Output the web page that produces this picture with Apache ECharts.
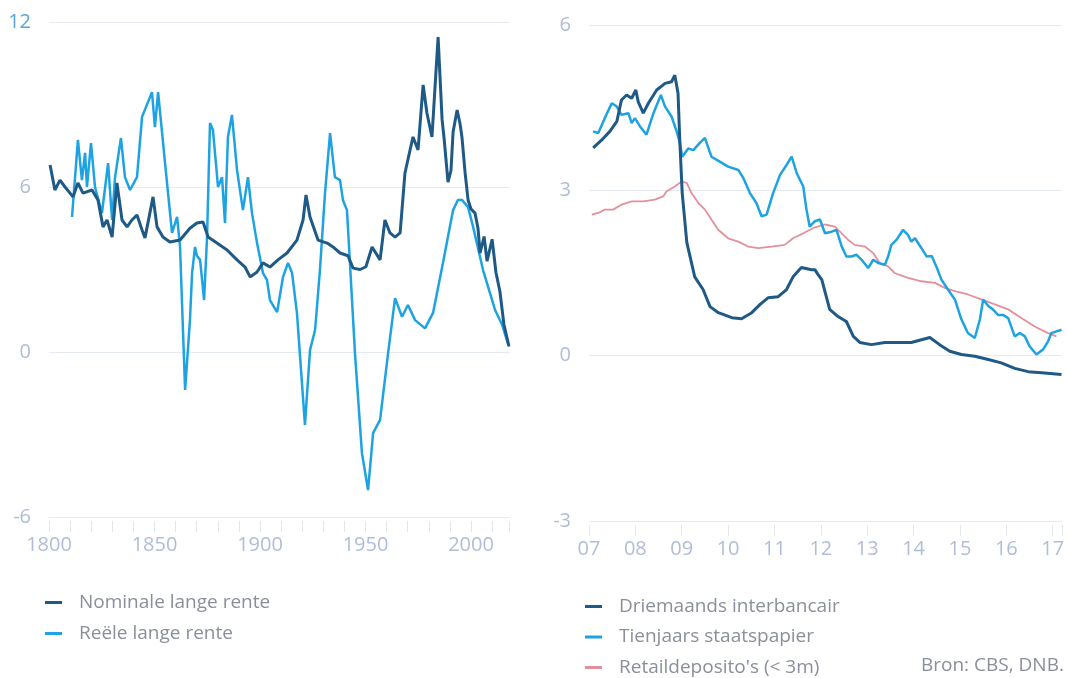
<!DOCTYPE html>
<html>
<head>
<meta charset="utf-8">
<script src="https://cdn.jsdelivr.net/npm/echarts@6/dist/echarts.min.js"></script>
<style>
html,body{margin:0;padding:0;background:#fff;}
#c{width:1069px;height:678px;}
</style>
</head>
<body>
<div id="c"></div>
<script>
// ---------- Left panel: long-term interest rates (1800-2017) ----------
const nominalYears = [1800.5,1802.8,1805.2,1807.6,1811.4,1813.7,1816.1,1820.4,1823.2,1825.6,1827.5,1829.9,1832.2,1834.6,1837.0,1839.3,1841.7,1844.1,1845.5,1849.3,1851.2,1854.0,1857.3,1862.1,1866.8,1870.1,1873.0,1875.4,1879.6,1884.4,1889.1,1892.9,1895.3,1898.6,1901.4,1904.7,1908.5,1912.8,1917.5,1920.4,1921.8,1923.7,1927.5,1931.8,1934.6,1937.9,1941.7,1944.1,1947.4,1950.2,1953.1,1956.9,1959.2,1961.6,1964.0,1966.4,1968.7,1972.5,1974.9,1977.3,1979.1,1981.5,1984.4,1986.3,1987.2,1989.1,1990.5,1991.5,1993.4,1994.8,1995.7,1997.2,1998.6,2000.0,2001.9,2003.3,2004.3,2006.2,2007.6,2010.0,2011.8,2013.7,2015.6,2018.0];
const nominalValues = [6.80,5.89,6.25,6.00,5.64,6.15,5.78,5.89,5.53,4.55,4.80,4.18,6.15,4.80,4.55,4.80,4.98,4.44,4.15,5.64,4.55,4.18,4.00,4.07,4.50,4.69,4.73,4.18,3.96,3.71,3.35,3.09,2.73,2.91,3.24,3.09,3.35,3.60,4.07,4.80,5.71,4.91,4.07,3.96,3.82,3.60,3.50,3.05,3.00,3.10,3.82,3.35,4.80,4.33,4.18,4.33,6.51,7.82,7.35,9.71,8.69,7.82,11.45,8.44,7.80,6.18,6.60,8.00,8.80,8.30,7.82,6.51,5.53,5.20,5.05,4.50,3.60,4.20,3.30,4.10,2.90,2.20,1.00,0.20];

const realYears = [1810.9,1813.7,1815.6,1817.1,1818.0,1819.9,1821.8,1825.1,1828.0,1829.9,1831.3,1834.1,1836.0,1838.4,1841.7,1844.1,1848.8,1850.2,1851.7,1855.0,1858.3,1860.7,1862.1,1864.5,1866.8,1867.8,1869.2,1870.1,1871.6,1873.5,1874.9,1876.3,1877.7,1880.1,1882.0,1883.4,1884.8,1886.7,1889.1,1891.9,1894.3,1896.2,1898.6,1901.4,1903.3,1904.7,1908.1,1910.9,1913.3,1915.2,1917.5,1921.3,1923.7,1926.1,1928.4,1930.8,1933.2,1935.5,1937.9,1939.3,1941.2,1942.2,1945.0,1948.3,1951.2,1953.6,1956.9,1960.7,1964.0,1967.3,1970.1,1973.5,1978.2,1982.0,1986.7,1991.5,1993.8,1995.7,1998.6,2001.0,2005.7,2011.4,2014.7,2017.5];
const realValues = [4.91,7.71,6.25,7.24,6.00,7.60,6.00,5.05,6.87,4.80,6.36,7.78,6.36,5.89,6.36,8.55,9.45,8.18,9.45,6.87,4.33,4.91,3.82,-1.38,1.16,2.87,3.82,3.50,3.35,1.89,4.18,8.33,8.07,6.00,6.36,4.69,7.82,8.62,6.62,5.16,6.36,5.05,3.96,2.87,2.62,1.89,1.45,2.73,3.24,2.87,1.42,-2.65,0.07,0.80,2.98,5.78,7.96,6.36,6.25,5.53,5.16,3.82,-0.04,-3.67,-5.02,-2.95,-2.47,-0.04,1.96,1.28,1.71,1.16,0.86,1.42,3.24,5.16,5.53,5.53,5.27,4.55,2.98,1.53,1.00,0.30];

// ---------- Right panel: rates 2007-2017 ----------
const interbankYears = [2007.09,2007.27,2007.45,2007.60,2007.70,2007.81,2007.92,2008.01,2008.06,2008.17,2008.28,2008.46,2008.64,2008.78,2008.85,2008.92,2008.96,2009.01,2009.11,2009.28,2009.46,2009.61,2009.79,2010.08,2010.29,2010.51,2010.69,2010.86,2011.08,2011.26,2011.40,2011.58,2011.80,2011.87,2011.94,2012.02,2012.19,2012.37,2012.55,2012.70,2012.84,2013.09,2013.38,2013.67,2013.95,2014.17,2014.35,2014.56,2014.78,2015.03,2015.32,2015.61,2015.89,2016.18,2016.47,2016.76,2017.19];
const interbankValues = [3.77,3.91,4.07,4.25,4.64,4.73,4.67,4.82,4.61,4.40,4.58,4.82,4.94,4.97,5.09,4.76,3.86,2.95,2.05,1.43,1.20,0.89,0.78,0.69,0.67,0.78,0.93,1.05,1.07,1.20,1.43,1.60,1.56,1.56,1.47,1.38,0.84,0.71,0.62,0.35,0.24,0.20,0.24,0.24,0.24,0.29,0.33,0.20,0.08,0.02,-0.01,-0.07,-0.13,-0.23,-0.29,-0.31,-0.34];

const bondYears = [2007.09,2007.20,2007.34,2007.49,2007.60,2007.70,2007.85,2007.92,2007.99,2008.10,2008.24,2008.39,2008.55,2008.64,2008.78,2008.89,2008.96,2009.01,2009.14,2009.25,2009.39,2009.50,2009.64,2009.82,2010.00,2010.22,2010.33,2010.47,2010.61,2010.72,2010.83,2010.97,2011.12,2011.26,2011.37,2011.48,2011.62,2011.69,2011.76,2011.87,2011.98,2012.09,2012.23,2012.34,2012.45,2012.55,2012.66,2012.77,2012.88,2013.02,2013.13,2013.24,2013.38,2013.45,2013.52,2013.63,2013.77,2013.88,2013.95,2014.03,2014.17,2014.28,2014.39,2014.49,2014.60,2014.74,2014.89,2015.03,2015.17,2015.32,2015.43,2015.50,2015.61,2015.71,2015.82,2015.93,2016.04,2016.18,2016.29,2016.40,2016.50,2016.65,2016.79,2016.90,2016.97,2017.08,2017.19];
const bondValues = [4.07,4.04,4.31,4.58,4.52,4.37,4.40,4.22,4.31,4.16,4.01,4.40,4.73,4.52,4.34,4.07,3.86,3.61,3.76,3.73,3.86,3.95,3.61,3.52,3.43,3.37,3.22,2.95,2.77,2.53,2.56,2.95,3.28,3.46,3.61,3.31,3.07,2.65,2.34,2.44,2.47,2.22,2.25,2.28,1.98,1.80,1.80,1.83,1.74,1.59,1.74,1.68,1.65,1.80,2.01,2.10,2.28,2.19,2.07,2.13,1.95,1.80,1.81,1.62,1.38,1.20,1.02,0.66,0.41,0.32,0.66,1.02,0.90,0.84,0.74,0.74,0.68,0.35,0.41,0.35,0.17,0.02,0.11,0.26,0.41,0.44,0.47];

const retailYears = [2007.06,2007.20,2007.34,2007.52,2007.70,2007.92,2008.17,2008.42,2008.60,2008.67,2008.85,2009.00,2009.11,2009.21,2009.36,2009.50,2009.64,2009.79,2010.00,2010.22,2010.43,2010.65,2010.94,2011.22,2011.40,2011.62,2011.87,2012.09,2012.30,2012.45,2012.59,2012.73,2012.95,2013.13,2013.27,2013.45,2013.59,2013.88,2014.17,2014.46,2014.67,2014.89,2015.17,2015.46,2015.75,2016.04,2016.33,2016.61,2016.90,2017.08];
const retailValues = [2.56,2.59,2.65,2.65,2.74,2.80,2.80,2.83,2.89,2.98,3.07,3.16,3.13,2.95,2.77,2.65,2.47,2.28,2.13,2.07,1.98,1.95,1.98,2.01,2.13,2.22,2.33,2.38,2.34,2.22,2.10,2.01,1.98,1.86,1.68,1.62,1.50,1.41,1.35,1.32,1.23,1.17,1.11,1.02,0.93,0.84,0.68,0.53,0.41,0.35];

const seriesNames = ['Nominale lange rente','Reële lange rente','Driemaands interbancair','Tienjaars staatspapier',"Retaildeposito's (< 3m)"];
const leftYTicks = [-6, 0, 6, 12];
const rightYTicks = [-3, 0, 3, 6];
const sourceText = 'Bron: CBS, DNB.';

const zip = (xs, ys) => xs.map((x, i) => [x, ys[i]]);

const C_DARK = '#1f5a87';
const C_LIGHT = '#1ea3e2';
const C_PINK = '#e4909c';
const C_LABEL = '#b0bdd8';
const C_GRID = '#e6ebf1';
const C_TEXT = '#8a8f9b';
const FONT = 'Open Sans';
const AXIS_FS = 20;
const LEG_FS = 19;

const chart = echarts.init(document.getElementById('c'), null, {renderer: 'canvas'});

function yAxisFor(gridIndex, ticks) {
  return {
    type: 'value', gridIndex: gridIndex,
    min: ticks[0], max: ticks[ticks.length - 1], interval: ticks[1] - ticks[0],
    axisLine: {show: false}, axisTick: {show: false},
    axisLabel: {
      margin: 18, fontFamily: FONT, fontSize: AXIS_FS,
      color: function (v) { return Number(v) === ticks[ticks.length - 1] && gridIndex === 0 ? '#5aa6d8' : C_LABEL; }
    },
    splitLine: {show: true, lineStyle: {color: C_GRID, width: 1}}
  };
}

function tickAxis(gridIndex, min, max, step) {
  return {
    type: 'value', gridIndex: gridIndex, min: min, max: max, interval: step,
    position: 'bottom', offset: 4,
    axisLine: {show: false}, splitLine: {show: false}, axisLabel: {show: false},
    axisTick: {show: true, length: 11, lineStyle: {color: '#e3e8f0'}}
  };
}

const option = {
  backgroundColor: '#ffffff',
  animation: false,
  grid: [
    {left: 49, top: 22, width: 460, height: 495},
    {left: 589, top: 25, width: 473, height: 496}
  ],
  title: {
    text: sourceText, left: 921, top: 656, padding: 0,
    textStyle: {fontFamily: FONT, fontSize: LEG_FS, fontWeight: 'normal', color: C_TEXT}
  },
  legend: [
    {
      data: [seriesNames[0], seriesNames[1]],
      orient: 'vertical', left: 45, top: 593, padding: 0, icon: 'rect',
      itemWidth: 17, itemHeight: 3, itemGap: 12,
      textStyle: {fontFamily: FONT, fontSize: LEG_FS, lineHeight: 19, color: C_TEXT, padding: [0, 0, 0, 12]}
    },
    {
      data: [seriesNames[2], seriesNames[3], seriesNames[4]],
      orient: 'vertical', left: 585, top: 597, padding: 0, icon: 'rect',
      itemWidth: 17, itemHeight: 3, itemGap: 11.5, height: 81,
      textStyle: {fontFamily: FONT, fontSize: LEG_FS, lineHeight: 19, color: C_TEXT, padding: [0, 0, 0, 12]}
    }
  ],
  xAxis: [
    {
      type: 'value', gridIndex: 0, min: 1800, max: 2018, interval: 50, position: 'bottom',
      axisLine: {show: false}, axisTick: {show: false}, splitLine: {show: false},
      axisLabel: {margin: 18, fontFamily: FONT, fontSize: AXIS_FS, color: C_LABEL, showMaxLabel: false,
        formatter: function (v) { return String(Math.round(v)); }}
    },
    tickAxis(0, 1800, 2018, 10),
    {
      type: 'value', gridIndex: 1, min: 2007, max: 2017.2, interval: 1, position: 'bottom',
      axisLine: {show: false}, axisTick: {show: false}, splitLine: {show: false},
      axisLabel: {
        margin: 18, fontFamily: FONT, fontSize: AXIS_FS, color: C_LABEL, showMaxLabel: false,
        formatter: function (v) { return String(Math.round(v) % 100).padStart(2, '0'); }
      }
    },
    tickAxis(1, 2007, 2017.2, 1)
  ],
  yAxis: [yAxisFor(0, leftYTicks), yAxisFor(1, rightYTicks)],
  series: [
    {
      name: seriesNames[1], type: 'line', xAxisIndex: 0, yAxisIndex: 0,
      data: zip(realYears, realValues), showSymbol: false,
      lineStyle: {color: C_LIGHT, width: 2.5}, itemStyle: {color: C_LIGHT}
    },
    {
      name: seriesNames[0], type: 'line', xAxisIndex: 0, yAxisIndex: 0,
      data: zip(nominalYears, nominalValues), showSymbol: false,
      lineStyle: {color: C_DARK, width: 3}, itemStyle: {color: C_DARK}
    },
    {
      name: seriesNames[4], type: 'line', xAxisIndex: 2, yAxisIndex: 1,
      data: zip(retailYears, retailValues), showSymbol: false,
      lineStyle: {color: C_PINK, width: 1.8}, itemStyle: {color: C_PINK}
    },
    {
      name: seriesNames[3], type: 'line', xAxisIndex: 2, yAxisIndex: 1,
      data: zip(bondYears, bondValues), showSymbol: false,
      lineStyle: {color: C_LIGHT, width: 2.5}, itemStyle: {color: C_LIGHT}
    },
    {
      name: seriesNames[2], type: 'line', xAxisIndex: 2, yAxisIndex: 1,
      data: zip(interbankYears, interbankValues), showSymbol: false,
      lineStyle: {color: C_DARK, width: 3}, itemStyle: {color: C_DARK}
    }
  ]
};
chart.setOption(option);
</script>
</body>
</html>
